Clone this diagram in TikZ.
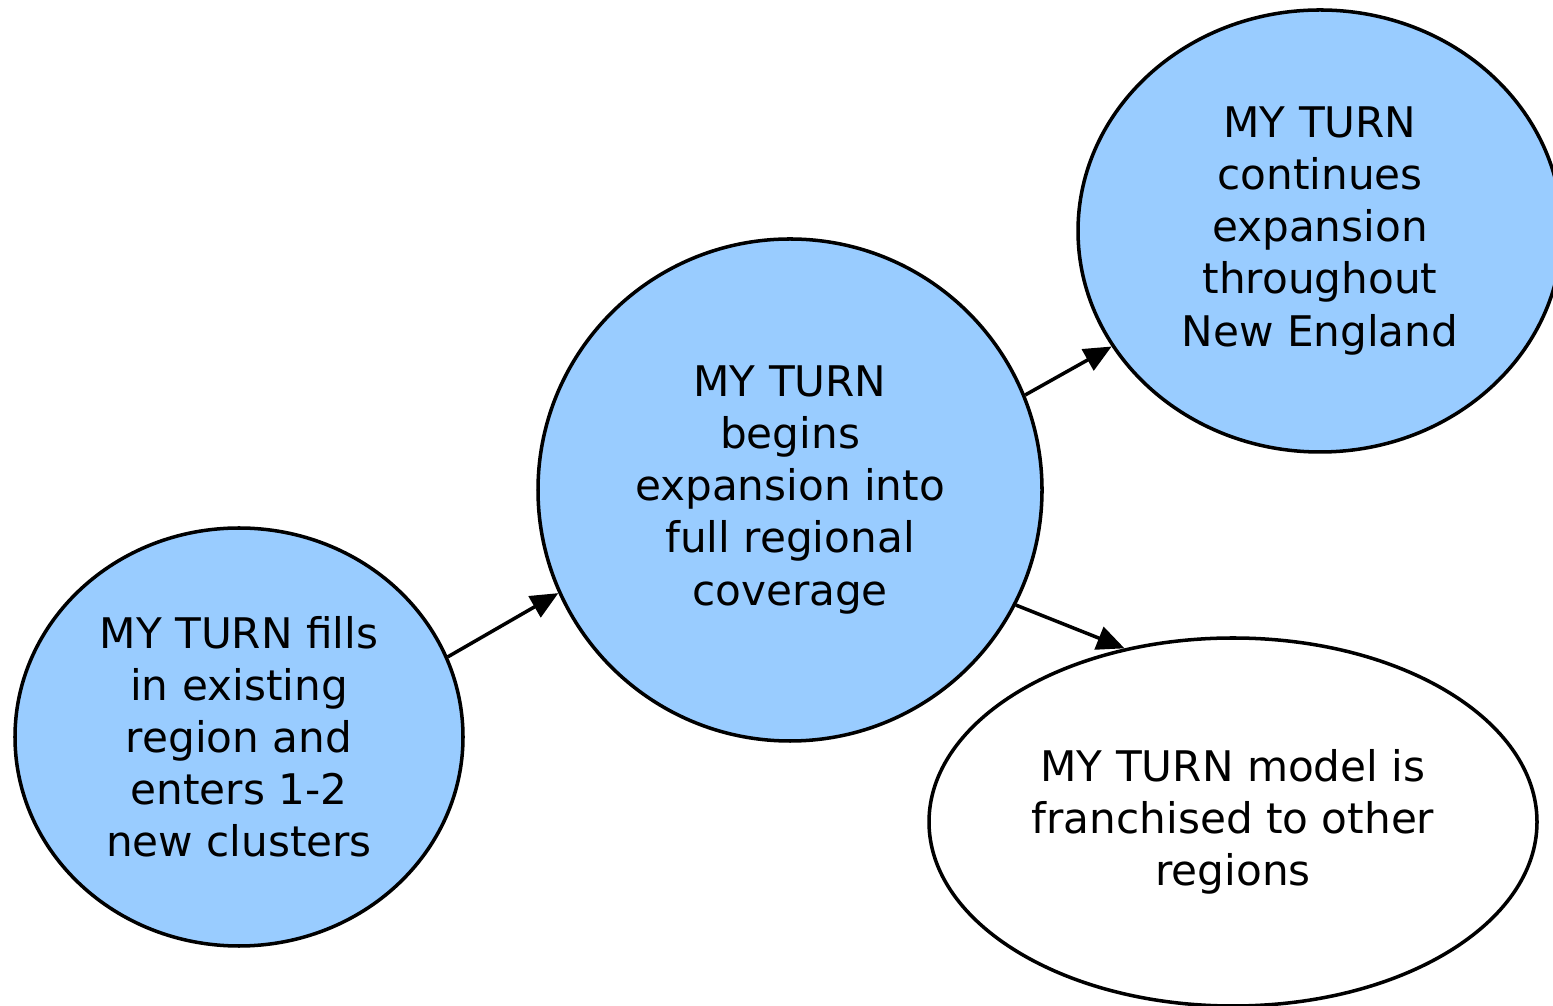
\documentclass[tikz,border=0pt]{standalone}
\usepackage{fontspec}
\setmainfont{DejaVu Sans}
\usepackage{tikz}
\usetikzlibrary{shapes.geometric,arrows.meta}
\definecolor{stageblue}{HTML}{99CCFF}

\tikzset{
  stage/.style = {ellipse, draw, line width = 2pt, inner sep = 0pt,
    align = center, font = \fontsize{24}{29.6}\selectfont},
  step arrow/.style = {-{Triangle[length = 0.55cm, width = 0.48cm]}, line width = 2pt}
}

\begin{document}
\begin{tikzpicture}
\useasboundingbox (0, 0) rectangle (31.06, 20.12);
%\draw[very thin, color = gray](0, 0) grid (31, 20);
\node (fills) [stage, fill = stageblue, minimum width = 8.96cm, minimum height = 8.36cm]
  at (4.78, 5.38) {MY TURN fills\\in existing\\region and\\enters 1-2\\new clusters};
\node (begins) [stage, fill = stageblue, minimum width = 10.08cm, minimum height = 10.04cm]
  at (15.80, 10.32) {MY TURN\\begins\\expansion into\\full regional\\coverage};
\node (continues) [stage, fill = stageblue, minimum width = 9.68cm, minimum height = 8.84cm]
  at (26.40, 15.50) {MY TURN\\continues\\expansion\\throughout\\New England};
\node (franchise) [stage, fill = white, minimum width = 12.16cm, minimum height = 7.36cm]
  at (24.66, 3.68) {MY TURN model is\\franchised to other\\regions};
\draw [step arrow] (fills.21) -- (begins.204);
\draw [step arrow] (begins.22) -- (continues.209);
\draw [step arrow] (begins.333) -- (franchise.122);
\end{tikzpicture}
\end{document}
